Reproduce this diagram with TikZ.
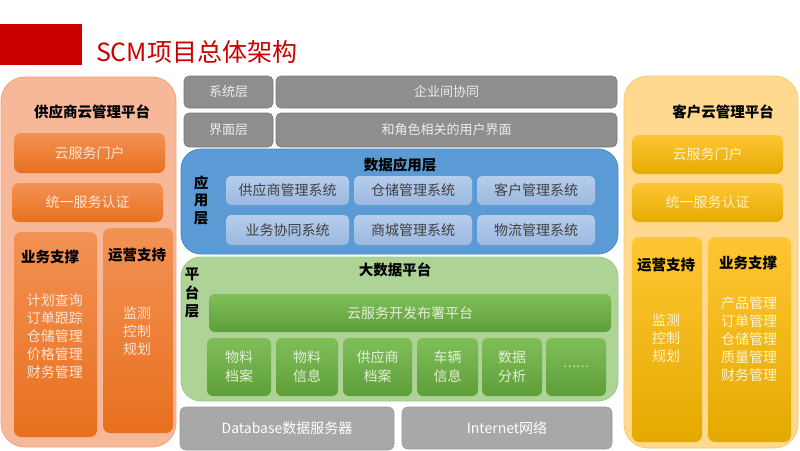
\documentclass[tikz,border=0pt]{standalone}
\usepackage{fontspec}
\setmainfont{Noto Sans CJK SC}
\begin{document}
\begin{tikzpicture}[x=1pt,y=-1pt,
  every node/.style={inner sep=0pt,outer sep=0pt},
  bx/.style 2 args={minimum width=#1pt,minimum height=#2pt},
  txt/.style={font=\fontsize{14}{18}\selectfont,align=center},
  ttl/.style={font=\fontsize{14.5}{18}\selectfont\bfseries,text=black},
  vert/.style={font=\fontsize{14.5}{17.5}\selectfont\bfseries,align=center,text=black},
  opanel/.style={rounded corners=24pt,fill=orpanel,draw=orborder,line width=0.8pt},
  ypanel/.style={rounded corners=24pt,fill=yepanel,draw=yeborder,line width=0.8pt},
  obox/.style={rounded corners=7pt,top color=ortop,bottom color=orbot,draw=none,text=orlight},
  ybox/.style={rounded corners=7pt,top color=yetop,bottom color=yebot,draw=none,text=yelight},
  gbox/.style={rounded corners=5pt,fill=grdark,draw=grdarkb,line width=0.6pt,text=grtext},
  lgbox/.style={rounded corners=6pt,fill=grlight,draw=grlightb,line width=0.6pt,text=white},
  bpanel/.style={rounded corners=20pt,fill=blpanel,draw=blborder,line width=0.8pt},
  bbox/.style={rounded corners=5pt,top color=bltop,bottom color=blbot,draw=none,text=bltext},
  gpanel/.style={rounded corners=20pt,fill=gnpanel,draw=gnborder,line width=0.8pt},
  gnbox/.style={rounded corners=6pt,top color=gntop,bottom color=gnbot,draw=none,text=gnlight},
]
\definecolor{titlered}{HTML}{CC0000}
\definecolor{orpanel}{HTML}{F6B898}
\definecolor{orborder}{HTML}{F2A078}
\definecolor{ortop}{HTML}{F39255}
\definecolor{orbot}{HTML}{E8701E}
\definecolor{orlight}{HTML}{FCE4D6}
\definecolor{yepanel}{HTML}{FFD98F}
\definecolor{yeborder}{HTML}{F9C870}
\definecolor{yetop}{HTML}{FFC633}
\definecolor{yebot}{HTML}{E4AA00}
\definecolor{yelight}{HTML}{FFF2CC}
\definecolor{grdark}{HTML}{8E8E8E}
\definecolor{grdarkb}{HTML}{7A7A7A}
\definecolor{grtext}{HTML}{EDEDED}
\definecolor{grlight}{HTML}{A8A8A8}
\definecolor{grlightb}{HTML}{999999}
\definecolor{blpanel}{HTML}{5B9BD5}
\definecolor{blborder}{HTML}{4A88C4}
\definecolor{bltop}{HTML}{B6CDEC}
\definecolor{blbot}{HTML}{9CB8E0}
\definecolor{bltext}{HTML}{404040}
\definecolor{gnpanel}{HTML}{ADD396}
\definecolor{gnborder}{HTML}{9DC884}
\definecolor{gntop}{HTML}{80BE58}
\definecolor{gnbot}{HTML}{5E9E38}
\definecolor{gnlight}{HTML}{E2F0D9}

\useasboundingbox (0,0) rectangle (800,450);
\fill[white] (0,0) rectangle (800,450);

% title
\node[bx={82}{41},fill=titlered] (redbar) at (41,44.5) {};
\node[anchor=west,font=\fontsize{25}{27}\selectfont,text=titlered] (title) at (96,52) {SCM项目总体架构};

% left panel
\node[opanel,bx={175}{370}] (lp) at (88.5,262) {};
\node[ttl] (lpt) at (92,112) {供应商云管理平台};
\node[obox,bx={151}{40},txt,text=orlight] (l1) at (89.5,153) {云服务门户};
\node[obox,bx={151}{39},txt,text=orlight] (l2) at (87.5,202.5) {统一服务认证};
\node[obox,bx={83}{205}] (l3) at (55.5,334.5) {};
\node[obox,bx={70}{205}] (l4) at (138,330.5) {};
\node[ttl] (l3t) at (50,257) {业务支撑};
\node[txt,text=orlight] (l3l) at (55,336) {计划查询\\订单跟踪\\仓储管理\\价格管理\\财务管理};
\node[ttl] (l4t) at (137,255) {运营支持};
\node[txt,text=orlight] (l4l) at (137,331) {监测\\控制\\规划};

% gray rows
\node[gbox,bx={89}{32},txt,font=\fontsize{13}{16}\selectfont] (g1) at (228.5,92) {系统层};
\node[gbox,bx={341}{32},txt,font=\fontsize{13}{16}\selectfont] (g2) at (446.5,92) {企业间协同};
\node[gbox,bx={89}{34},txt,font=\fontsize{13}{16}\selectfont] (g3) at (228.5,130) {界面层};
\node[gbox,bx={341}{34},txt,font=\fontsize{13}{16}\selectfont] (g4) at (446.5,130) {和角色相关的用户界面};

% blue application layer
\node[bpanel,bx={437}{105}] (bp) at (399.5,201.5) {};
\node[ttl] (bpt) at (400,165) {数据应用层};
\node[vert] (bpv) at (201,200) {应\\用\\层};
\node[bbox,bx={123}{29},txt] (b1) at (287.5,190.5) {供应商管理系统};
\node[bbox,bx={118}{29},txt] (b2) at (413,190.5) {仓储管理系统};
\node[bbox,bx={118}{29},txt] (b3) at (536,190.5) {客户管理系统};
\node[bbox,bx={123}{30},txt] (b4) at (287.5,230) {业务协同系统};
\node[bbox,bx={118}{30},txt] (b5) at (413,230) {商城管理系统};
\node[bbox,bx={118}{30},txt] (b6) at (536,230) {物流管理系统};

% green platform layer
\node[gpanel,bx={437}{144}] (gp) at (399.5,329) {};
\node[ttl] (gpt) at (395,270) {大数据平台};
\node[vert,font=\fontsize{14.5}{18.5}\selectfont\bfseries] (gpv) at (192,293) {平\\台\\层};
\node[gnbox,bx={402}{38},txt] (gn0) at (410,313) {云服务开发布署平台};
\node[gnbox,bx={64}{58},txt,font=\fontsize{14}{19}\selectfont] (gn1) at (239,367) {物料\\档案};
\node[gnbox,bx={62}{58},txt,font=\fontsize{14}{19}\selectfont] (gn2) at (307,367) {物料\\信息};
\node[gnbox,bx={69}{58},txt,font=\fontsize{14}{19}\selectfont] (gn3) at (377.5,367) {供应商\\档案};
\node[gnbox,bx={61}{58},txt,font=\fontsize{14}{19}\selectfont] (gn4) at (447.5,367) {车辆\\信息};
\node[gnbox,bx={60}{58},txt,font=\fontsize{14}{19}\selectfont] (gn5) at (512,367) {数据\\分析};
\node[gnbox,bx={60}{58},txt,font=\fontsize{12}{14}\selectfont] (gn6) at (576,367) {……};

% bottom gray
\node[lgbox,bx={214}{43},txt] (db) at (287,428.5) {Database数据服务器};
\node[lgbox,bx={210}{42},txt] (net) at (507,428) {Internet网络};

% right panel
\node[ypanel,bx={174}{372}] (rp) at (711,262) {};
\node[ttl] (rpt) at (723,112) {客户云管理平台};
\node[ybox,bx={151}{39},txt,text=yelight] (r1) at (707.5,154.5) {云服务门户};
\node[ybox,bx={151}{39},txt,text=yelight] (r2) at (707.5,202.5) {统一服务认证};
\node[ybox,bx={70}{205}] (r3) at (667,339.5) {};
\node[ybox,bx={83}{205}] (r4) at (749.5,339.5) {};
\node[ttl] (r3t) at (666,265) {运营支持};
\node[txt,text=yelight] (r3l) at (666,338) {监测\\控制\\规划};
\node[ttl] (r4t) at (748,263) {业务支撑};
\node[txt,text=yelight] (r4l) at (749,339) {产品管理\\订单管理\\仓储管理\\质量管理\\财务管理};
\end{tikzpicture}
\end{document}
